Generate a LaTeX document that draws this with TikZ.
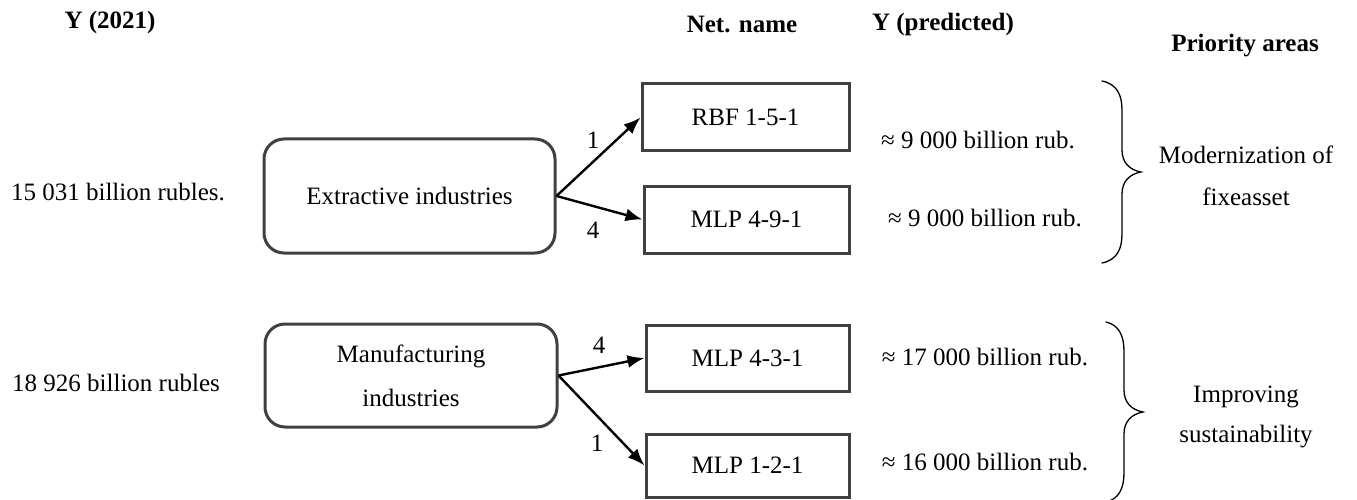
\documentclass[tikz,border=0pt]{standalone}
\usepackage{fontspec}
\setmainfont{Liberation Serif}
\usetikzlibrary{arrows.meta}
\definecolor{boxgray}{HTML}{404040}
\begin{document}
\begin{tikzpicture}[x=1pt,y=-1pt,
  txt/.style={font=\fontsize{25}{30}\selectfont, inner sep=0pt},
  hdr/.style={font=\fontsize{25}{30}\selectfont\bfseries, inner sep=0pt},
  rbox/.style={draw=boxgray, line width=3pt, rounded corners=20pt, align=center,
    font=\fontsize{25}{44}\selectfont, inner sep=0pt},
  nbox/.style={draw=boxgray, line width=3pt, font=\fontsize{25}{30}\selectfont, inner sep=0pt},
  arr/.style={line width=2.4pt, -{Latex[length=17pt,width=13pt]}},
  lbl/.style={font=\fontsize{25}{30}\selectfont, inner sep=0pt},
  two/.style={align=center, font=\fontsize{25}{42}\selectfont, inner sep=0pt},
  brace/.style={line width=1.3pt, line cap=round}
]
\useasboundingbox (0,0) rectangle (1357,500);

% headers
\node[hdr] (h1) at (110,22) {Y (2021)};
\node[hdr] (h2) at (742,24) {Net. name};
\node[hdr] (h3) at (943,24) {Y (predicted)};
\node[hdr] (h4) at (1245,46) {Priority areas};

% left values
\node[txt] (v1) at (118,192) {15 031 billion rubles.};
\node[txt] (v2) at (116,383) {18 926 billion rubles};

% industry boxes
\node[rbox, minimum width=291pt, minimum height=114pt] (ext) at (409.5,196) {Extractive industries};
\node[rbox, minimum width=292pt, minimum height=103pt] (man) at (411,375.5) {Manufacturing\\industries};

% network boxes
\node[nbox, minimum width=207pt, minimum height=67pt] (a) at (745.5,117.5) {RBF 1-5-1};
\node[nbox, minimum width=205pt, minimum height=67pt] (b) at (746.5,219.5) {MLP 4-9-1};
\node[nbox, minimum width=203pt, minimum height=66pt] (c) at (747.5,358) {MLP 4-3-1};
\node[nbox, minimum width=203pt, minimum height=63pt] (d) at (747.5,465.5) {MLP 1-2-1};

% arrows
\draw[arr] (ext.east) -- (a.west);
\draw[arr] (ext.east) -- (b.west);
\draw[arr] (man.east) -- (c.west);
\draw[arr] (man.east) -- (d.west);

\node[lbl] (l1) at (593,140) {1};
\node[lbl] (l2) at (593,230) {4};
\node[lbl] (l3) at (599,345) {4};
\node[lbl] (l4) at (597,443) {1};

% predicted values
\node[txt] (p1) at (978,140) {≈ 9 000 billion rub.};
\node[txt] (p2) at (985,218) {≈ 9 000 billion rub.};
\node[txt] (p3) at (985,357) {≈ 17 000 billion rub.};
\node[txt] (p4) at (985,462) {≈ 16 000 billion rub.};

% braces
\draw[brace] (1102,81) .. controls (1117,84) and (1122,95) .. (1122,110) -- (1122,150)
  .. controls (1122,163) and (1130,170) .. (1141,172)
  .. controls (1130,174) and (1122,181) .. (1122,194) -- (1122,234)
  .. controls (1122,249) and (1117,260) .. (1102,263);
\draw[brace] (1106,322) .. controls (1119,325) and (1124,336) .. (1124,351) -- (1124,390)
  .. controls (1124,403) and (1132,410) .. (1143,412)
  .. controls (1132,414) and (1124,421) .. (1124,434) -- (1124,473)
  .. controls (1124,488) and (1119,499) .. (1106,502);

% priority areas
\node[two] (m1) at (1246,175.5) {Modernization of\\fixeasset};
\node[two, font=\fontsize{25}{40}\selectfont] (m2) at (1246,417) {Improving\\sustainability};
\end{tikzpicture}
\end{document}
